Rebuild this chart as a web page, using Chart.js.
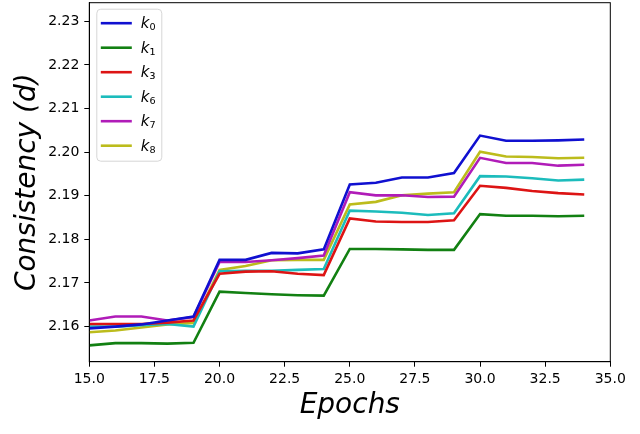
<!DOCTYPE html>
<html lang="en">
<head>
  <meta charset="UTF-8">
  <title>Consistency vs Epochs</title>
  <script src="https://cdn.jsdelivr.net/npm/chart.js"></script>
  <style>
    body { margin: 0; background: #fff; }
    #chart { display: block; }
  </style>
</head>
<body>
  <canvas id="chart" width="640" height="434"></canvas>

  <script>
    // data
    const epochs = [15, 16, 17, 18, 19, 20, 21, 22, 23, 24, 25, 26, 27, 28, 29, 30, 31, 32, 33, 34];
    const k0 = [2.1596, 2.1600, 2.1605, 2.1614, 2.1623, 2.1753, 2.1753, 2.1769, 2.1768, 2.1777,
                2.1926, 2.1930, 2.1942, 2.1942, 2.1952, 2.2038, 2.2026, 2.2026, 2.2027, 2.2029];
    const k1 = [2.1557, 2.1562, 2.1562, 2.1561, 2.1563, 2.1680, 2.1677, 2.1674, 2.1672, 2.1671,
                2.1778, 2.1778, 2.1777, 2.1776, 2.1776, 2.1858, 2.1854, 2.1854, 2.1853, 2.1854];
    const k3 = [2.1606, 2.1606, 2.1606, 2.1609, 2.1614, 2.1721, 2.1726, 2.1727, 2.1721, 2.1718,
                2.1848, 2.1841, 2.1840, 2.1840, 2.1844, 2.1923, 2.1918, 2.1911, 2.1906, 2.1903];
    const k6 = [2.1600, 2.1600, 2.1603, 2.1606, 2.1600, 2.1727, 2.1728, 2.1728, 2.1730, 2.1732,
                2.1866, 2.1864, 2.1861, 2.1856, 2.1860, 2.1945, 2.1944, 2.1940, 2.1935, 2.1937];
    const k7 = [2.1614, 2.1623, 2.1623, 2.1614, 2.1622, 2.1748, 2.1748, 2.1752, 2.1757, 2.1763,
                2.1908, 2.1901, 2.1901, 2.1897, 2.1898, 2.1987, 2.1975, 2.1975, 2.1969, 2.1971];
    const k8 = [2.1587, 2.1591, 2.1598, 2.1605, 2.1608, 2.1730, 2.1739, 2.1752, 2.1753, 2.1753,
                2.1880, 2.1886, 2.1901, 2.1905, 2.1908, 2.2001, 2.1990, 2.1989, 2.1986, 2.1987];

    const seriesNames = ['k₀', 'k₁', 'k₃', 'k₆', 'k₇', 'k₈'];
    const seriesValues = [k0, k1, k3, k6, k7, k8];
    const seriesColors = ['#1010d0', '#128012', '#dd1414', '#1cbcbc', '#b01cb8', '#bcbc1c'];

    const xTicks = [15, 17.5, 20, 22.5, 25, 27.5, 30, 32.5, 35];
    const yTicks = [2.16, 2.17, 2.18, 2.19, 2.20, 2.21, 2.22, 2.23];

    const FONT = "'DejaVu Sans', sans-serif";

    // closes the box on top and right, like matplotlib spines
    const frame = {
      id: 'frame',
      afterDraw(chart) {
        const { ctx, chartArea: a } = chart;
        ctx.save();
        ctx.strokeStyle = '#000';
        ctx.lineWidth = 1;
        ctx.strokeRect(a.left, a.top, a.right - a.left, a.bottom - a.top);
        ctx.restore();
      }
    };

    // legend box in the upper left corner of the plot
    const innerLegend = {
      id: 'innerLegend',
      afterDatasetsDraw(chart) {
        const { ctx, chartArea: a } = chart;
        const x0 = a.left + 7.5, y0 = a.top + 6.5;
        const rowH = 24.5;
        ctx.save();
        ctx.beginPath();
        ctx.roundRect(x0, y0, 65, 152, 4);
        ctx.fillStyle = 'rgba(255,255,255,0.85)';
        ctx.fill();
        ctx.strokeStyle = '#d6d6d6';
        ctx.lineWidth = 1;
        ctx.stroke();
        chart.data.datasets.forEach((ds, i) => {
          const y = y0 + 14 + i * rowH;
          ctx.beginPath();
          ctx.moveTo(x0 + 4, y);
          ctx.lineTo(x0 + 35, y);
          ctx.strokeStyle = ds.borderColor;
          ctx.lineWidth = 2.6;
          ctx.stroke();
          ctx.fillStyle = '#000';
          ctx.textBaseline = 'alphabetic';
          ctx.font = 'italic 15px ' + FONT;
          ctx.fillText(ds.label.charAt(0), x0 + 44, y + 5);
          const kw = ctx.measureText(ds.label.charAt(0)).width;
          ctx.font = '15px ' + FONT;
          ctx.fillText(ds.label.slice(1), x0 + 44 + kw, y + 7);
        });
        ctx.restore();
      }
    };

    new Chart(document.getElementById('chart'), {
      type: 'line',
      data: {
        labels: epochs,
        datasets: seriesNames.map((name, i) => ({
          label: name,
          data: seriesValues[i],
          borderColor: seriesColors[i],
          backgroundColor: seriesColors[i],
          borderWidth: 2.6,
          pointRadius: 0,
          tension: 0,
          fill: false
        }))
      },
      options: {
        responsive: false,
        devicePixelRatio: 1,
        animation: false,
        layout: { padding: { top: 2.7, right: 29.7, left: 0, bottom: 0 } },
        plugins: {
          legend: { display: false },
          tooltip: { enabled: false }
        },
        scales: {
          x: {
            type: 'linear',
            min: 15,
            max: 35,
            afterBuildTicks: (s) => { s.ticks = xTicks.map(v => ({ value: v })); },
            afterFit: (s) => { s.height = 72.3; s.paddingLeft = 0; s.paddingRight = 0; },
            ticks: {
              color: '#000',
              padding: 4,
              maxRotation: 0,
              autoSkip: false,
              font: { family: FONT, size: 14 },
              callback: (v) => Number(v).toFixed(1)
            },
            grid: { drawOnChartArea: false, drawTicks: true, tickLength: 5, color: '#000' },
            border: { display: true, color: '#000', width: 1 },
            title: {
              display: true,
              text: 'Epochs',
              color: '#000',
              font: { family: FONT, size: 28, style: 'italic', lineHeight: 1.2 },
              padding: { top: 0, bottom: 11 }
            }
          },
          y: {
            min: 2.15195,
            max: 2.23427,
            afterBuildTicks: (s) => { s.ticks = yTicks.map(v => ({ value: v })); },
            afterFit: (s) => { s.width = 89.3; s.paddingTop = 0; s.paddingBottom = 0; },
            ticks: {
              color: '#000',
              padding: 5,
              autoSkip: false,
              font: { family: FONT, size: 14 },
              callback: (v) => Number(v).toFixed(2)
            },
            grid: { drawOnChartArea: false, drawTicks: true, tickLength: 5, color: '#000' },
            border: { display: true, color: '#000', width: 1 },
            title: {
              display: true,
              text: 'Consistency (d)',
              color: '#000',
              font: { family: FONT, size: 28, style: 'italic', lineHeight: 1.2 },
              padding: { top: 11, bottom: 0 }
            }
          }
        }
      },
      plugins: [frame, innerLegend]
    });
  </script>
</body>
</html>
